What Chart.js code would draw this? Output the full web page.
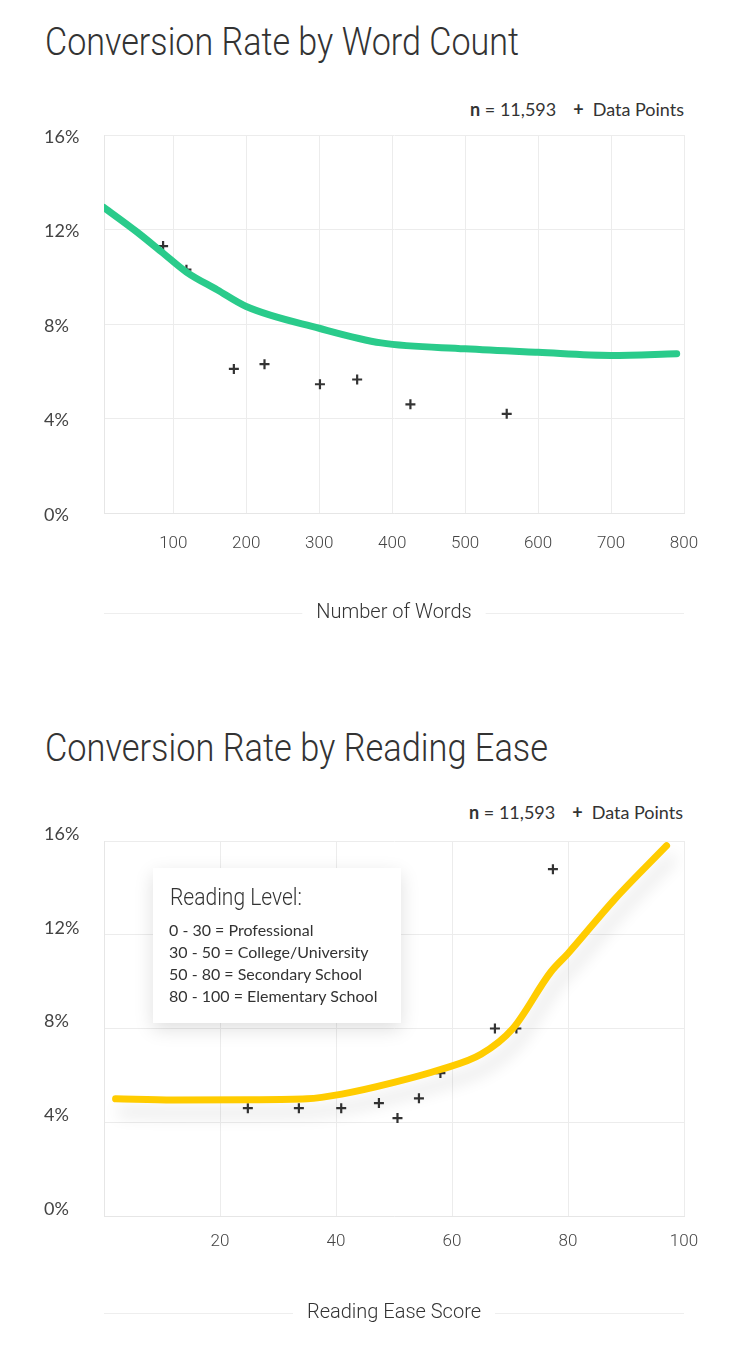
<!DOCTYPE html>
<html><head><meta charset="utf-8">
<script src="https://cdn.jsdelivr.net/npm/chart.js@4.4.1/dist/chart.umd.min.js"></script>
<style>
html,body{margin:0;padding:0;background:#fff;}
body{width:750px;height:1362px;position:relative;overflow:hidden;font-family:Lato,sans-serif;color:#333;}
.title{position:absolute;left:45px;margin:0;font-family:Roboto;font-weight:300;font-size:38px;line-height:38px;white-space:nowrap;transform-origin:0 0;color:#333;}
.legend{position:absolute;right:66px;font-family:Lato;font-size:18px;line-height:20px;color:#333;white-space:nowrap;}
.legend b{font-weight:700}
.legend .plus{font-weight:700;margin:0 9px 0 17px;}
.chartbox{position:absolute;left:0;width:750px;}
.chartbox canvas{display:block;}
.levels{position:absolute;left:153px;top:868px;width:248px;height:155px;background:#fff;box-shadow:0 6px 18px rgba(0,0,0,0.13);z-index:2;}
.levels .lt{position:absolute;left:17px;top:18px;font-family:Roboto;font-weight:300;font-size:23px;line-height:23px;white-space:nowrap;transform-origin:0 0;color:#333;}
.levels .ll{position:absolute;left:16px;top:51px;font-family:Lato;font-size:16px;line-height:22px;white-space:nowrap;color:#333;}
</style></head>
<body>
<h1 class="title" id="t1" style="top:23px">Conversion Rate by Word Count</h1>
<div class="legend" style="top:99px"><b>n</b> = 11,593<span class="plus">+</span>Data Points</div>
<div class="chartbox" style="top:90px;height:543px"><canvas id="c1" width="750" height="543"></canvas></div>

<h1 class="title" id="t2" style="top:729px">Conversion Rate by Reading Ease</h1>
<div class="legend" style="top:802px;right:67px"><b>n</b> = 11,593<span class="plus">+</span>Data Points</div>
<div class="chartbox" style="top:790px;height:543px"><canvas id="c2" width="750" height="543"></canvas></div>
<div class="levels">
  <div class="lt" id="lt">Reading Level:</div>
  <div class="ll">0 - 30 = Professional<br>30 - 50 = College/University<br>50 - 80 = Secondary School<br>80 - 100 = Elementary School</div>
</div>

<script>
// ---- Data: Conversion Rate by Word Count ----
const wordPointsX    = [86, 118, 183, 225, 301, 352, 425, 557];
const wordPointsRate = [11.3, 10.3, 6.1, 6.3, 5.45, 5.65, 4.6, 4.2];
const wordTrendX     = [5, 50, 86, 118, 160, 200, 300, 385, 500, 600, 700, 790];
const wordTrendRate  = [12.93, 11.9, 11.0, 10.2, 9.45, 8.74, 7.82, 7.2, 6.95, 6.8, 6.67, 6.74];
const wordXTicks     = [100, 200, 300, 400, 500, 600, 700, 800];

// ---- Data: Conversion Rate by Reading Ease ----
const easePointsX    = [24.8, 33.6, 40.9, 47.4, 50.6, 54.3, 58.0, 67.4, 71.1, 77.4];
const easePointsRate = [4.6, 4.6, 4.6, 4.82, 4.18, 5.02, 6.1, 8.0, 8.0, 14.8];
const easeTrendX     = [2, 12, 25, 35, 41, 50, 58, 65, 70.5, 77, 80, 88, 97];
const easeTrendRate  = [5.0, 4.95, 4.96, 5.0, 5.2, 5.7, 6.25, 6.9, 8.0, 10.4, 11.2, 13.5, 15.8];
const easeXTicks     = [20, 40, 60, 80, 100];

const rateTicks      = [0, 4, 8, 12, 16];

// fit titles (style only)
function fitWidth(id, w){ const el=document.getElementById(id); const cur=el.getBoundingClientRect().width; el.style.transform='scaleX('+(w/cur)+')'; }
fitWidth('t1', 474); fitWidth('t2', 503); fitWidth('lt', 132);

const pts = (xs, ys) => xs.map((x, i) => ({x, y: ys[i]}));

const lineShadow = {
  id: 'lineShadow',
  beforeDatasetDraw(chart, args) {
    const s = chart.data.datasets[args.index].shadow;
    if (!s) return;
    const ctx = chart.ctx;
    ctx.save();
    ctx.shadowColor = s.color; ctx.shadowBlur = s.blur;
    ctx.shadowOffsetX = s.x; ctx.shadowOffsetY = s.y;
  },
  afterDatasetDraw(chart, args) {
    if (chart.data.datasets[args.index].shadow) chart.ctx.restore();
  }
};

const titleRule = {
  id: 'titleRule',
  afterDraw(chart) {
    const sc = chart.scales.x, t = sc.options.title;
    const ctx = chart.ctx;
    const font = Chart.helpers.toFont(t.font);
    const pad = Chart.helpers.toPadding(t.padding);
    ctx.save();
    ctx.font = font.string;
    const w = ctx.measureText(t.text).width;
    const y = Math.round(sc.bottom - font.lineHeight / 2 - pad.bottom) + 0.5;
    const cx = (sc.left + sc.right) / 2;
    ctx.strokeStyle = '#eeeeee'; ctx.lineWidth = 1;
    ctx.beginPath();
    ctx.moveTo(sc.left, y); ctx.lineTo(cx - w / 2 - 14, y);
    ctx.moveTo(cx + w / 2 + 14, y); ctx.lineTo(sc.right, y);
    ctx.stroke();
    ctx.restore();
  }
};

function makeChart(id, cfg) {
  return new Chart(document.getElementById(id), {
    type: 'scatter',
    data: {
      datasets: [
        {
          label: 'Trend',
          data: pts(cfg.trendX, cfg.trendY),
          showLine: true,
          borderColor: cfg.color,
          borderWidth: 7,
          borderCapStyle: 'round',
          borderJoinStyle: 'round',
          pointRadius: 0,
          cubicInterpolationMode: 'monotone',
          order: 0,
          shadow: cfg.shadow
        },
        {
          label: 'Data Points',
          data: pts(cfg.px, cfg.py),
          pointStyle: 'cross',
          pointRadius: 5,
          pointBorderWidth: 2.2,
          borderColor: '#333',
          backgroundColor: '#333',
          order: 1
        }
      ]
    },
    options: {
      responsive: false,
      animation: false,
      events: [],
      layout: { padding: { left: 44, right: 66, top: cfg.top, bottom: 0 } },
      plugins: { legend: { display: false }, tooltip: { enabled: false } },
      scales: {
        x: {
          type: 'linear',
          min: cfg.xmin, max: cfg.xmax,
          afterBuildTicks: s => { s.ticks = cfg.xTicks.map(v => ({value: v})); },
          afterFit: s => { s.height = cfg.xh; },
          grid: { color: '#ececec', drawTicks: false, lineWidth: 1 },
          border: { color: '#e6e6e6' },
          ticks: { padding: cfg.xpad, color: '#444', font: { family: 'Roboto', size: 17, weight: '300' } },
          title: { display: true, text: cfg.xTitle, color: '#333', padding: { top: 0, bottom: 8 },
                   font: { family: 'Roboto', size: 20, weight: '300' } }
        },
        y: {
          min: 0, max: 16,
          afterBuildTicks: s => { s.ticks = rateTicks.map(v => ({value: v})); },
          afterFit: s => { s.width = 60; },
          grid: { color: '#ececec', drawTicks: false },
          border: { color: '#e6e6e6' },
          ticks: { crossAlign: 'far', labelOffset: cfg.yOff, color: '#444', padding: 0,
                   font: { family: 'Lato', size: 18 },
                   callback: v => v + '%' }
        }
      }
    },
    plugins: [lineShadow, titleRule]
  });
}

makeChart('c1', {
  trendX: wordTrendX, trendY: wordTrendRate, px: wordPointsX, py: wordPointsRate,
  color: '#2acb8b', shadow: null, top: 45, xmin: 5, xmax: 800, xTicks: wordXTicks,
  xh: 120, xpad: 21, xTitle: 'Number of Words', yOff: 2
});
makeChart('c2', {
  trendX: easeTrendX, trendY: easeTrendRate, px: easePointsX, py: easePointsRate,
  color: '#ffcc00', shadow: {color: 'rgba(0,0,0,0.13)', blur: 16, x: 5, y: 13},
  top: 51, xmin: 0, xmax: 100, xTicks: easeXTicks,
  xh: 117, xpad: 16, xTitle: 'Reading Ease Score', yOff: -7
});
</script>
</body></html>
